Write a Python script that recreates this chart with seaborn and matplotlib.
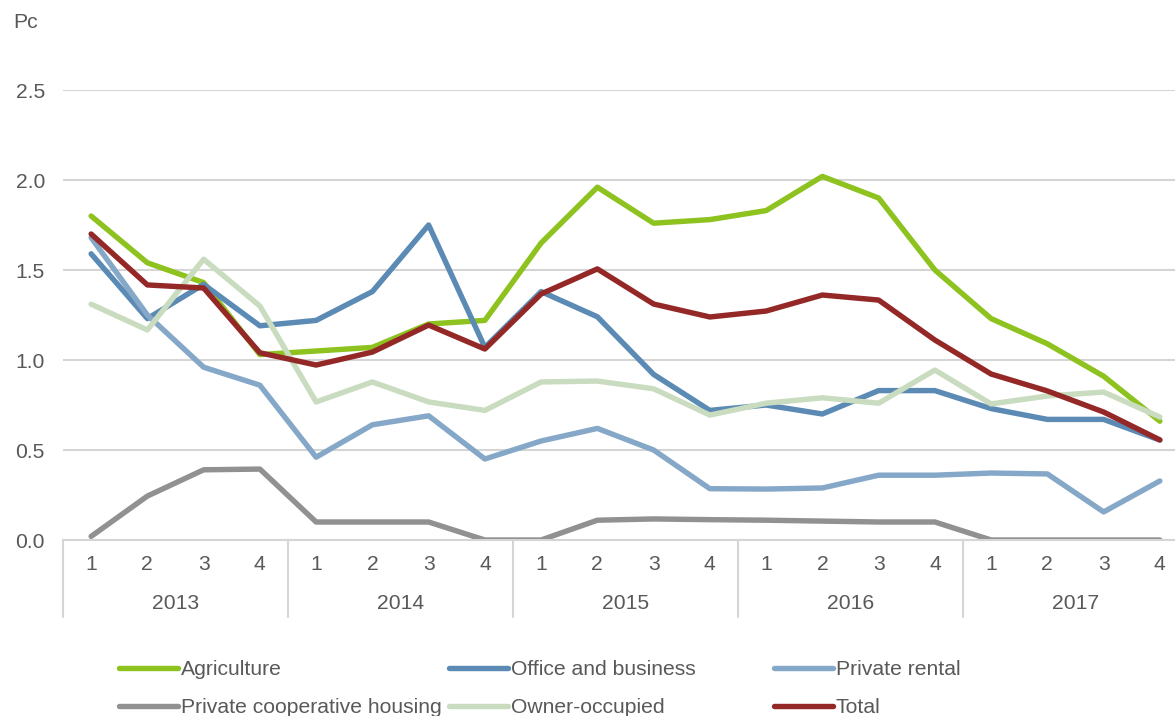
import matplotlib
matplotlib.use("Agg")
import matplotlib.pyplot as plt
import seaborn as sns
import pandas as pd
from matplotlib.lines import Line2D
from matplotlib.transforms import blended_transform_factory

years = ["2013", "2014", "2015", "2016", "2017"]
quarters = ["1", "2", "3", "4"]
series_names = ["Agriculture", "Office and business", "Private rental",
                "Private cooperative housing", "Owner-occupied", "Total"]

agriculture = [1.80, 1.54, 1.43, 1.03, 1.05, 1.07, 1.20, 1.22, 1.65, 1.96,
               1.76, 1.78, 1.83, 2.02, 1.90, 1.50, 1.23, 1.09, 0.91, 0.66]
office = [1.59, 1.23, 1.42, 1.19, 1.22, 1.38, 1.75, 1.07, 1.38, 1.24,
          0.92, 0.72, 0.75, 0.70, 0.83, 0.83, 0.73, 0.67, 0.67, 0.555]
private_rental = [1.68, 1.25, 0.96, 0.86, 0.46, 0.64, 0.69, 0.45, 0.55, 0.62,
                  0.50, 0.285, 0.283, 0.289, 0.36, 0.36, 0.372, 0.367, 0.156, 0.328]
coop_housing = [0.02, 0.244, 0.39, 0.394, 0.10, 0.10, 0.10, 0.0, 0.0, 0.11,
                0.117, 0.113, 0.11, 0.105, 0.10, 0.10, 0.0, 0.0, 0.0, 0.0]
owner_occupied = [1.31, 1.167, 1.56, 1.30, 0.767, 0.878, 0.767, 0.72, 0.878, 0.883,
                  0.84, 0.694, 0.76, 0.79, 0.76, 0.944, 0.756, 0.80, 0.822, 0.683]
total = [1.70, 1.417, 1.40, 1.04, 0.972, 1.044, 1.194, 1.061, 1.367, 1.506,
         1.311, 1.239, 1.272, 1.361, 1.333, 1.111, 0.922, 0.828, 0.711, 0.556]

colors = ["#8dc21f", "#5b8ab4", "#86a8c8", "#919191", "#c9dcbf", "#942827"]

values = [agriculture, office, private_rental, coop_housing, owner_occupied, total]
n = len(years) * len(quarters)
rows = []
for name, vals in zip(series_names, values):
    for i, v in enumerate(vals):
        rows.append({"idx": i, "value": v, "series": name})
df = pd.DataFrame(rows)

sns.set_style("white")
plt.rcParams["font.family"] = ["Liberation Sans", "DejaVu Sans"]
text_color = "#595959"
grid_color = "#d5d5d5"
fs = 15.2
lw = 3.9

fig = plt.figure(figsize=(11.75, 7.16), dpi=100)
ax = fig.add_axes([63 / 1175, 1 - 540 / 716, (1188 - 63) / 1175, (540 - 90) / 716])

sns.lineplot(data=df, x="idx", y="value", hue="series", hue_order=series_names,
             palette=colors, linewidth=lw, ax=ax, legend=False,
             solid_capstyle="round")

ax.set_xlim(-0.5, n - 0.5)
ax.set_ylim(0, 2.5)
ax.set_yticks([0, 0.5, 1.0, 1.5, 2.0, 2.5])
ax.set_yticklabels(["0.0", "0.5", "1.0", "1.5", "2.0", "2.5"])
ax.yaxis.grid(True, color=grid_color, linewidth=1.5)
ax.set_axisbelow(True)
ax.set_xticks(range(n))
ax.set_xticklabels(quarters * len(years))
ax.tick_params(axis="y", length=0, pad=13, labelsize=fs, labelcolor=text_color)
ax.tick_params(axis="x", length=0, pad=11, labelsize=fs, labelcolor=text_color)
ax.set_xlabel("")
ax.set_ylabel("")
for s in ["top", "right", "left"]:
    ax.spines[s].set_visible(False)
ax.spines["bottom"].set_color(grid_color)
ax.spines["bottom"].set_linewidth(1.5)

trans = blended_transform_factory(ax.transData, ax.transAxes)
for b in range(len(years) + 1):
    xb = b * 4 - 0.5
    ax.plot([xb, xb], [0, -0.171], transform=trans, color=grid_color,
            linewidth=1.5, clip_on=False)
for k, yr in enumerate(years):
    ax.text(k * 4 + 1.5, -0.142, yr, transform=trans, ha="center", va="center",
            fontsize=fs, color=text_color)

fig.text(13 / 1175, 1 - 22 / 716, "Pc", ha="left", va="center", fontsize=fs,
         color=text_color)

# legend: three columns, two rows (row-major order)
col_x = [119, 449, 774]
ymid = 1 - 688.5 / 716
for c in range(3):
    idxs = [c, c + 3]
    handles = [Line2D([0], [0], color=colors[i], linewidth=lw,
                      solid_capstyle="round") for i in idxs]
    labels = [series_names[i] for i in idxs]
    leg = fig.legend(handles, labels, loc="center left",
                     bbox_to_anchor=(col_x[c] / 1175, ymid), frameon=False,
                     fontsize=fs, handlelength=2.8, handletextpad=0.12,
                     labelspacing=0.9, borderpad=0, borderaxespad=0)
    for t in leg.get_texts():
        t.set_color(text_color)

fig.savefig("out.png", dpi=100)
